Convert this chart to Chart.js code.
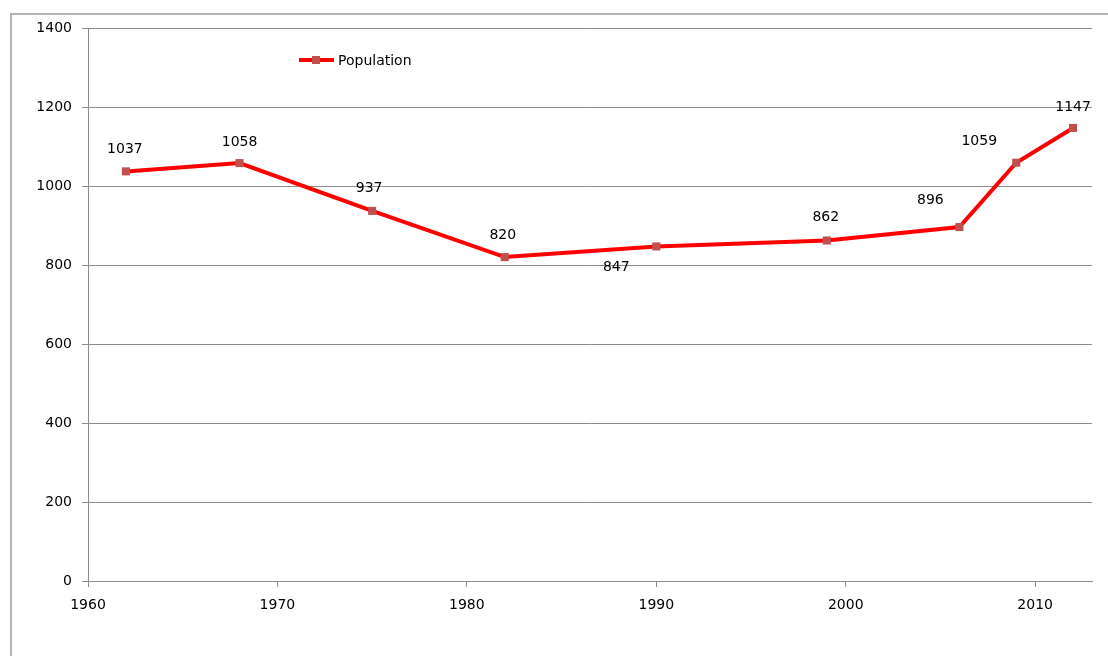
<!DOCTYPE html>
<html>
<head>
<meta charset="utf-8">
<script src="https://cdn.jsdelivr.net/npm/chart.js@4.4.0/dist/chart.umd.min.js"></script>
<style>
  html, body { margin: 0; padding: 0; background: #fff; }
  #wrap { position: relative; width: 1108px; height: 656px; overflow: hidden; }
  #frame { position: absolute; left: 10px; top: 13px; width: 1200px; height: 800px;
           border-left: 2px solid #b4b4b4; border-top: 2px solid #b4b4b4; box-sizing: border-box; }
  canvas { position: absolute; left: 0; top: 0; }
</style>
</head>
<body>
<div id="wrap">
  <div id="frame"></div>
  <canvas id="c" width="1108" height="656"></canvas>
</div>
<script>
const years = [1962, 1968, 1975, 1982, 1990, 1999, 2006, 2009, 2012];
const population = [1037, 1058, 937, 820, 847, 862, 896, 1059, 1147];
const seriesName = 'Population';
const xTicks = [1960, 1970, 1980, 1990, 2000, 2010];
const yTicks = [0, 200, 400, 600, 800, 1000, 1200, 1400];

// label offsets (px) relative to each point: styling only
const labelOffsets = [[-1,-22],[0,-21],[-3,-23],[-2,-22],[-40,21],[-1,-23],[-29,-27],[-37,-21],[0,-21]];

const FONT_FAMILY = '"DejaVu Sans", Verdana, sans-serif';
const FONT = '14px ' + FONT_FAMILY;
const LINE_COLOR = '#ff0000';
const MARK_COLOR = '#c0504d';
const TEXT_COLOR = '#000';

const labelPlugin = {
  id: 'labels',
  afterDatasetsDraw(chart) {
    const ctx = chart.ctx;
    const meta = chart.getDatasetMeta(0);
    ctx.save();
    ctx.font = FONT;
    ctx.fillStyle = TEXT_COLOR;
    ctx.textAlign = 'center';
    ctx.textBaseline = 'middle';
    meta.data.forEach((pt, i) => {
      const o = labelOffsets[i] || [0, -20];
      ctx.fillText(String(population[i]), pt.x + o[0], pt.y + o[1]);
    });
    // legend
    const lx = 299, ly = 60;
    ctx.strokeStyle = LINE_COLOR;
    ctx.lineWidth = 4;
    ctx.beginPath(); ctx.moveTo(lx, ly); ctx.lineTo(lx + 35, ly); ctx.stroke();
    ctx.fillStyle = MARK_COLOR;
    ctx.fillRect(lx + 13, ly - 4, 8, 8);
    ctx.fillStyle = TEXT_COLOR;
    ctx.textAlign = 'left';
    ctx.fillText(seriesName, lx + 39, ly + 1);
    ctx.restore();
  }
};

new Chart(document.getElementById('c'), {
  type: 'line',
  data: {
    datasets: [{
      label: seriesName,
      data: years.map((y, i) => ({ x: y, y: population[i] })),
      borderColor: LINE_COLOR,
      borderWidth: 4,
      pointStyle: 'rect',
      pointRadius: 5.7,
      pointBackgroundColor: MARK_COLOR,
      pointBorderColor: MARK_COLOR,
      pointBorderWidth: 0,
      tension: 0
    }]
  },
  options: {
    responsive: false,
    animation: false,
    devicePixelRatio: 1,
    layout: { padding: { left: 0, top: 28, right: 16, bottom: 0 } },
    plugins: { legend: { display: false }, tooltip: { enabled: false } },
    scales: {
      x: {
        type: 'linear',
        min: 1960,
        max: 2013,
        afterFit(scale) { scale.height = 75; },
        afterBuildTicks(scale) { scale.ticks = xTicks.map(v => ({ value: v })); },
        ticks: { includeBounds: false, stepSize: 10, color: TEXT_COLOR, font: { family: FONT_FAMILY, size: 14 }, padding: 10, maxRotation: 0, callback: v => String(v) },
        grid: { drawOnChartArea: false, drawTicks: true, tickLength: 6, color: '#8c8c8c' },
        border: { color: '#8c8c8c', width: 1 }
      },
      y: {
        min: 0,
        max: 1400,
        afterFit(scale) { scale.width = 88; },
        afterBuildTicks(scale) { scale.ticks = yTicks.map(v => ({ value: v })); },
        ticks: { stepSize: 200, color: TEXT_COLOR, font: { family: FONT_FAMILY, size: 14 }, padding: 10, callback: v => String(v) },
        grid: { color: '#8c8c8c', lineWidth: 1, tickLength: 6 },
        border: { color: '#8c8c8c', width: 1 }
      }
    }
  },
  plugins: [labelPlugin]
});
</script>
</body>
</html>
